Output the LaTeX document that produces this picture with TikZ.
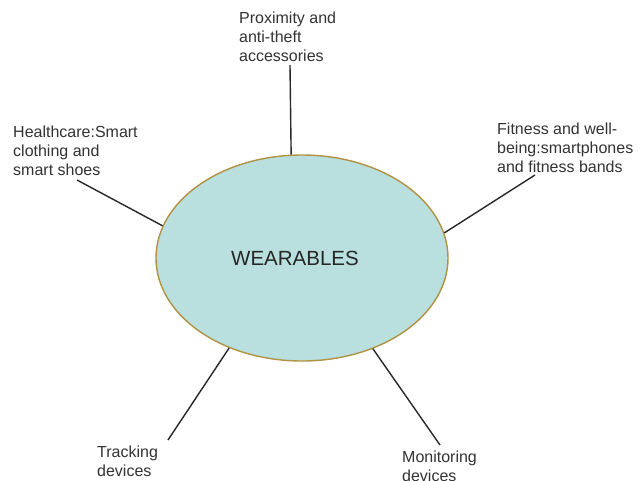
\documentclass[tikz,border=0pt]{standalone}
\usepackage{fontspec}
\setmainfont{Liberation Sans}
\usetikzlibrary{shapes.geometric}
\definecolor{hubfill}{RGB}{185,224,222}
\definecolor{hubedge}{RGB}{176,146,66}
\definecolor{inktext}{RGB}{51,51,51}
\definecolor{inkline}{RGB}{40,40,40}
\begin{document}
\begin{tikzpicture}[x=1pt,y=-1pt,
  hub/.style={ellipse, draw=hubedge, line width=1.4pt, fill=hubfill,
    minimum width=292pt, minimum height=206pt, inner sep=0pt,
    font=\fontsize{20.5}{24}\selectfont, text=black!85},
  leaf/.style={anchor=north west, inner sep=0pt, align=left, text=inktext,
    font=\fontsize{16}{19}\selectfont},
  spoke/.style={draw=inkline, line width=1.4pt}]
  \useasboundingbox[fill=white] (0,0) rectangle (638,480);

  % central topic, its word set a little left of centre
  \node[hub] (wear) at (302,258) {WEARABLES\hspace*{14pt}};

  % categories around it
  \node[leaf] (prox) at (239,12) {Proximity and\\anti-theft\\accessories};
  \node[leaf] (health) at (13,126) {Healthcare:Smart\\clothing and\\smart shoes};
  \node[leaf] (fit) at (497,123) {Fitness and well-\\being:smartphones\\and fitness bands};
  \node[leaf] (track) at (97,446) {Tracking\\devices};
  \node[leaf] (mon) at (402,451) {Monitoring\\devices};

  % free ends of the spokes, just short of each label
  \coordinate (prox-end) at (290,65);
  \coordinate (health-end) at (77,180);
  \coordinate (fit-end) at (535,175);
  \coordinate (track-end) at (168,440);
  \coordinate (mon-end) at (440,445);

  % spokes
  \draw[spoke] (prox-end) -- (wear.96.8);
  \draw[spoke] (health-end) -- (wear.167.4);
  \draw[spoke] (fit-end) -- (wear.10.3);
  \draw[spoke] (track-end) -- (wear.231.9);
  \draw[spoke] (mon-end) -- (wear.308.4);
\end{tikzpicture}
\end{document}
